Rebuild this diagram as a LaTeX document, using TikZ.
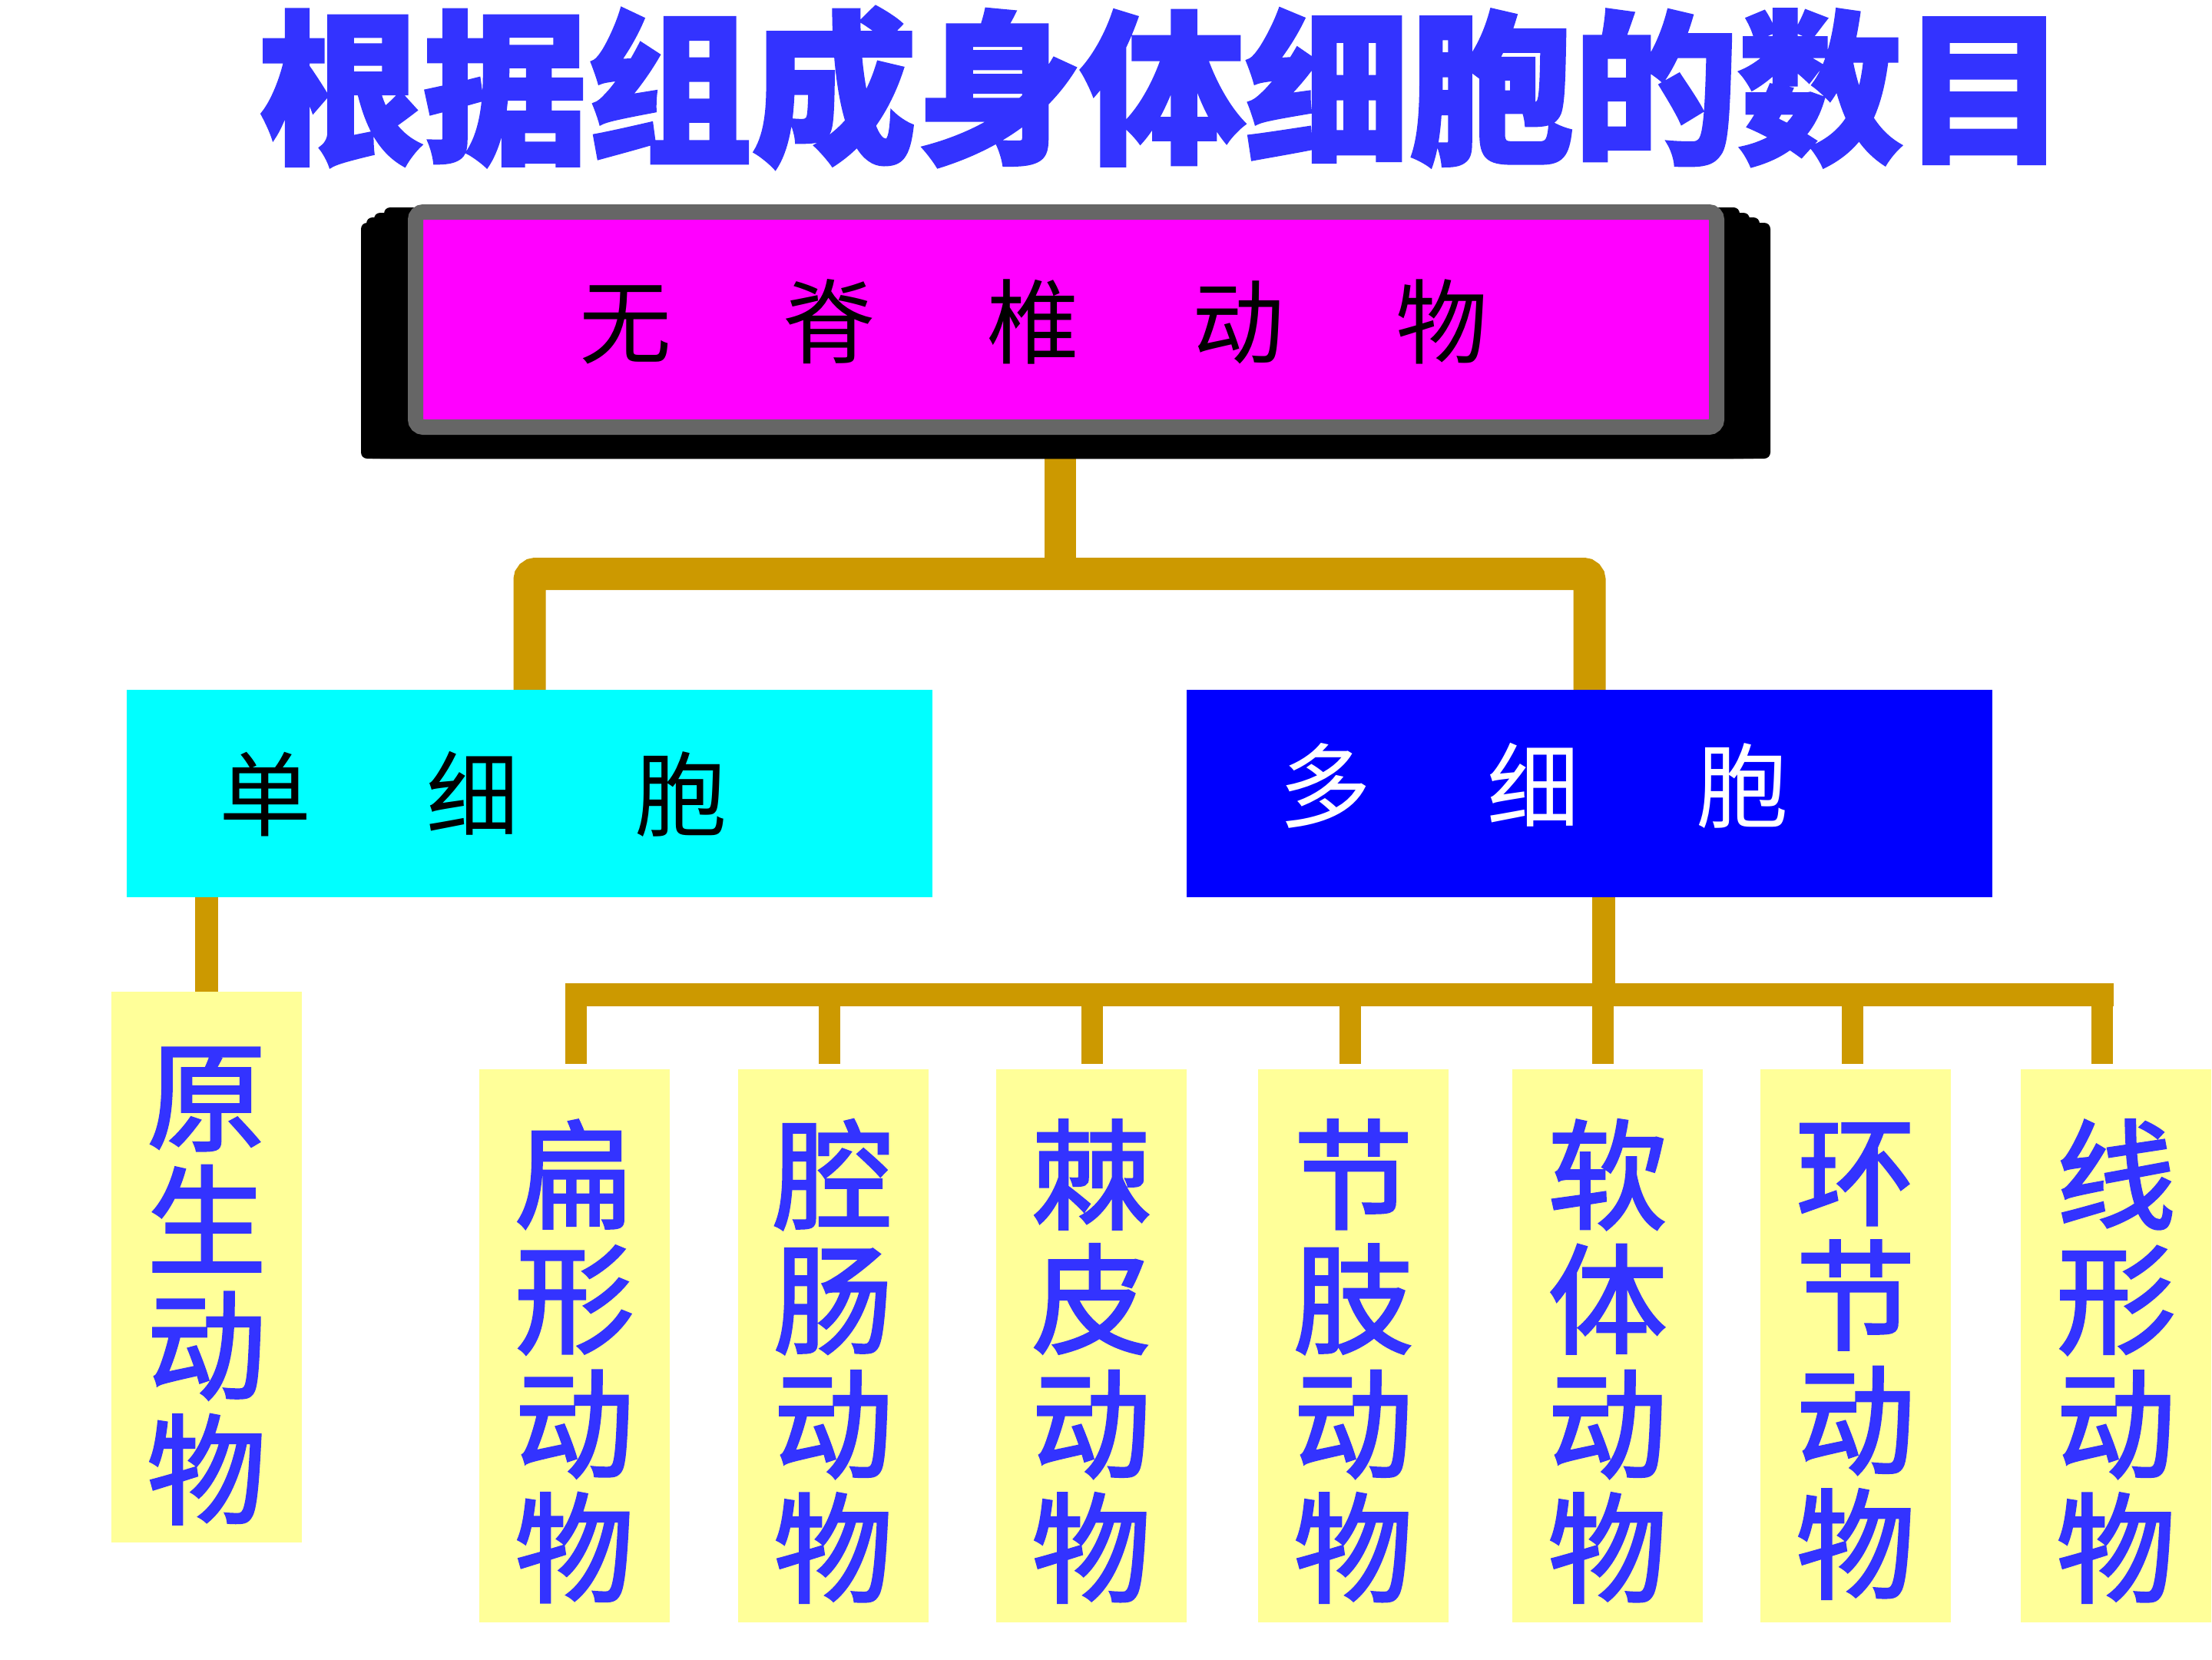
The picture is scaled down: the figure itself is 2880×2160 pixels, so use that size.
\documentclass[tikz,border=0pt]{standalone}
\usepackage{graphicx}
\usepackage{fontspec}
\setmainfont{Noto Sans CJK SC}
\newfontfamily\titlefont{Noto Sans CJK SC}[BoldFeatures={FakeBold=2}]
\newfontfamily\vfont{Noto Sans CJK SC}[FakeBold=2.2]
\definecolor{gold}{HTML}{CC9900}
\definecolor{tblue}{HTML}{3333FF}
\definecolor{pyellow}{HTML}{FFFF99}
\definecolor{mgray}{HTML}{666666}
\definecolor{pmagenta}{HTML}{FF00FF}
\definecolor{pcyan}{HTML}{00FFFF}
\definecolor{pblue}{HTML}{0000FF}
\pgfdeclarelayer{bg}
\pgfsetlayers{bg,main}
\tikzset{
  conn/.style={draw=gold, line width=#1},
  titlestyle/.style={text=tblue, inner sep=0pt, font=\titlefont\fontsize{214pt}{220pt}\selectfont\bfseries},
  topbox/.style={draw=mgray, line width=20pt, fill=pmagenta, rounded corners=10pt,
    minimum width=1694pt, minimum height=280pt, inner sep=0pt},
  midbox/.style={minimum width=1049pt, minimum height=270pt, inner sep=0pt},
  hlabel/.style={inner sep=0pt, font=\fontsize{120pt}{130pt}\selectfont},
  ybox/.style={fill=pyellow, minimum width=248pt, minimum height=720pt, inner sep=0pt},
  vtext/.style={text=tblue, align=center, inner sep=0pt,
    font=\vfont\fontsize{155pt}{162pt}\selectfont},
}
\begin{document}
\begin{tikzpicture}[x=1pt,y=-1pt]
\useasboundingbox (0,0) rectangle (2880,2160);
% title
\node[titlestyle] (title) at (1514,114) {\scalebox{1}[1.0]{根据组成身体细胞的数目}};
% shadow of the top box
\foreach \l/\t/\r in {500/270/2265, 487/277/2278, 477/283/2291, 470/290/2305}
  \fill[black, rounded corners=8pt] (\l,\t) rectangle (\r,597);
% top box
\node[topbox] (top) at (1388,416) {};
\node[hlabel, text=black] (toptext) at (1346,419)
  {无\hspace{146pt}脊\hspace{146pt}椎\hspace{146pt}动\hspace{146pt}物};
% second level
\node[midbox, fill=pcyan] (uni) at (689.5,1033) {};
\node[hlabel, text=black] (unitext) at (616,1034) {单\hspace{151pt}细\hspace{151pt}胞};
\node[midbox, fill=pblue] (multi) at (2069.5,1033) {};
\node[hlabel, text=white] (multitext) at (1997,1023) {多\hspace{152pt}细\hspace{152pt}胞};
% third level boxes
\node[ybox, minimum height=717pt] (yuan) at (269,1649.5) {};
\node[vtext] (yuant) at (269,1674) {原\\生\\动\\物};
\foreach \n/\cx/\a/\b in {b1/748/扁/形, b2/1085/腔/肠, b3/1421/棘/皮, b4/1762/节/肢, b5/2093/软/体, b6/2416/环/节, b7/2755/线/形}{
  \node[ybox] (\n) at (\cx,1752) {};
  \node[vtext] (\n t) at (\cx,1772) {\a\\\b\\动\\物};
}
% connectors
\coordinate (hub1) at (1380,747);
\coordinate (hub2) at (2088,1295);
\foreach \v/\x in {v1/750, v2/1080, v3/1422, v4/1758, v5/2087, v6/2412, v7/2737}
  \coordinate (\v) at (\x,1295);
\begin{pgfonlayer}{bg}
  \draw[conn=41pt] (hub1 |- top.south) -- (hub1);
  \draw[conn=42pt, rounded corners=8pt] (uni.north) |- (hub1) -| (multi.north);
  \draw[conn=30pt] (yuan.north |- uni.south) -- (yuan.north);
  \draw[conn=30pt] (hub2 |- multi.south) -- (hub2);
  \draw[conn=30pt] ([xshift=-14pt]v1) -- ([xshift=15pt]v7);
  \draw[conn=28pt, shorten >=7pt] (v1) -- (v1 |- b1.north);
  \draw[conn=28pt, shorten >=7pt] (v2) -- (v2 |- b2.north);
  \draw[conn=28pt, shorten >=7pt] (v3) -- (v3 |- b3.north);
  \draw[conn=28pt, shorten >=7pt] (v4) -- (v4 |- b4.north);
  \draw[conn=28pt, shorten >=7pt] (v5) -- (v5 |- b5.north);
  \draw[conn=28pt, shorten >=7pt] (v6) -- (v6 |- b6.north);
  \draw[conn=28pt, shorten >=7pt] (v7) -- (v7 |- b7.north);
\end{pgfonlayer}
\end{tikzpicture}
\end{document}
